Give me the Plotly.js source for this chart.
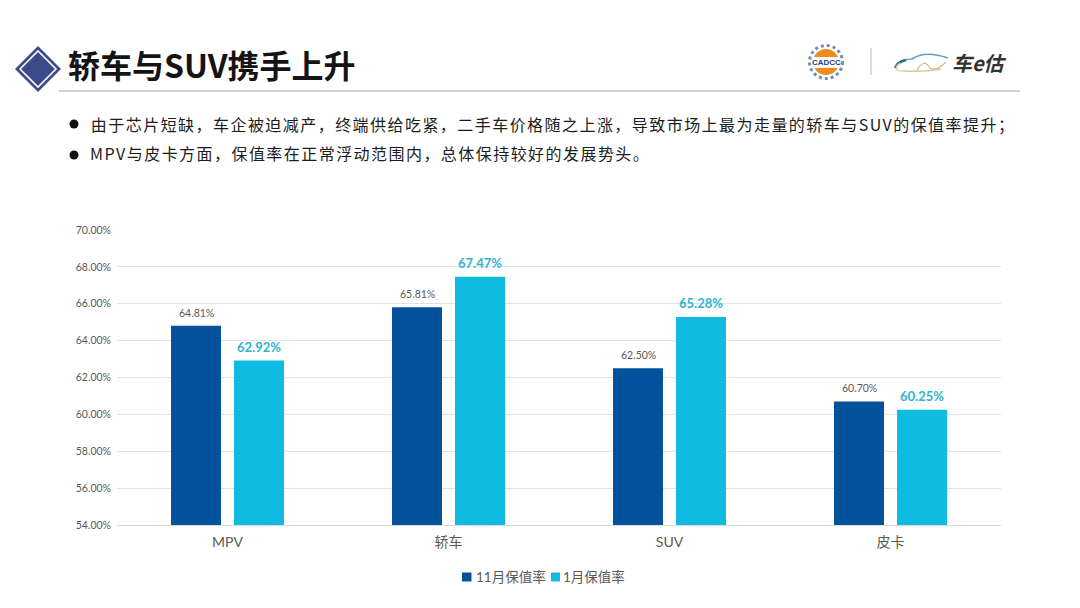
<!DOCTYPE html>
<html><head><meta charset="utf-8">
<script src="https://cdn.plot.ly/plotly-3.0.1.min.js"></script>
<style>html,body{margin:0;padding:0;background:#fff}#c{width:1080px;height:608px}
.annotation text[data-unformatted^="由于"],.annotation text[data-unformatted^="MPV与"]{letter-spacing:1.45px}
</style></head>
<body><div id="c"></div>
<script>
const categories = ["MPV","轿车","SUV","皮卡"];
const novValues = [64.81,65.81,62.50,60.70];
const janValues = [62.92,67.47,65.28,60.25];
const novName = "11月保值率";
const janName = "1月保值率";
const yTicks = [54,56,58,60,62,64,66,68,70];
const titleText = "轿车与SUV携手上升";
const bullets = ["由于芯片短缺，车企被迫减产，终端供给吃紧，二手车价格随之上涨，导致市场上最为走量的轿车与SUV的保值率提升；","MPV与皮卡方面，保值率在正常浮动范围内，总体保持较好的发展势头。"];

const L=117,R=1001,T=230,B=525;
const px=x=>(x-L)/(R-L), py=y=>(B-y)/(B-T);
const CJK='"Noto Sans CJK SC"';
const latin='Lato, "Noto Sans CJK SC", sans-serif';
const fmt=v=>v.toFixed(2)+"%";
const novColor="#04519c", janColor="#10bbe2";
const bar=(name,vals,color)=>({type:"bar",name,x:categories,y:vals,marker:{color},hoverinfo:"skip"});
const data=[bar(novName,novValues,novColor),bar(janName,janValues,janColor)];

const S=(o)=>Object.assign({xref:"paper",yref:"paper",layer:"above"},o);
const rect=(x0,y0,x1,y1,c)=>S({type:"rect",x0:px(x0),x1:px(x1),y0:py(y0),y1:py(y1),fillcolor:c,line:{width:0}});
const seg=(x0,y0,x1,y1,c,w)=>S({type:"line",x0:px(x0),x1:px(x1),y0:py(y0),y1:py(y1),line:{color:c,width:w}});
const poly=(pts,fill,lc,lw)=>S({type:"path",path:"M"+pts.map(p=>px(p[0])+","+py(p[1])).join("L")+"Z",fillcolor:fill,line:{color:lc,width:lw}});
const curve=(d,c,w)=>S({type:"path",path:"M"+px(d[0])+","+py(d[1])+"Q"+px(d[2])+","+py(d[3])+" "+px(d[4])+","+py(d[5])+(d.length>6?"Q"+px(d[6])+","+py(d[7])+" "+px(d[8])+","+py(d[9]):""),line:{color:c,width:w},fillcolor:"rgba(0,0,0,0)"});
const circle=(cx,cy,r,c,lc,lw,dash)=>S({type:"circle",x0:px(cx-r),x1:px(cx+r),y0:py(cy-r),y1:py(cy+r),fillcolor:c,line:{color:lc||c,width:lw||0,dash:dash||"solid"}});
const shapes=[
 poly([[15,69],[38,46],[61,69],[38,92]],"#3d4a8a","#3d4a8a",0),
 poly([[20,69],[38,51],[56,69],[38,87]],"rgba(0,0,0,0)","#ffffff",1.6),
 seg(59,91,1020,91,"#a6a6a6",1.2),
 circle(74,124,4.5,"#111111"),
 circle(74,155,4.5,"#111111"),
 circle(826,62,16.5,"#ffffff","#6f8db8",3,"dot"),
 circle(826,62,13,"#ee8a1e"),
 rect(812,57,840,68,"#ffffff"),
 seg(871,48,871,75,"#c4c4c4",1.2),
 curve([896,68,897,60,912,59,925,50,948,58],"#5fa0bb",1.6),
 curve([895,68,897,62,906,60],"#2f6f86",2.4),
 curve([900,63,890,71,905,71,925,72,941,69],"#d4c7a0",1.4),
 curve([917,70,924,58,930,68,936,72,946,62],"#c9b98a",1.2),
 rect(462,572.5,471.5,581.5,novColor),
 rect(551,572.5,560,581.5,janColor)
];
const ann=(x,y,text,size,color,extra)=>Object.assign({xref:"paper",yref:"paper",x:px(x),y:py(y),text,showarrow:false,xanchor:"left",yanchor:"middle",font:{family:CJK,size,color}},extra||{});
const valLabel=(cat,val,shift,yshift,font)=>({xref:"x",yref:"y",x:cat,y:val,text:fmt(val),showarrow:false,xshift:shift,yshift,xanchor:"center",yanchor:"middle",font});
const novFont={family:latin,size:10.5,color:"#595959"};
const janFont={family:latin,size:13,color:"#2fb4cf",weight:700};
const annotations=[
 ann(66,64,titleText,32,"#141414",{font:{family:CJK,size:32,color:"#141414",weight:700}}),
 ann(553,123.5,bullets[0],16,"#1c1c1c",{xanchor:"center"}),
 ann(370,152.5,bullets[1],16,"#1c1c1c",{xanchor:"center"}),
 ann(826,62.5,"CADCC",8,"#27407a",{xanchor:"center",font:{family:"Liberation Sans",size:8,color:"#27407a",weight:700}}),
 ann(950,62,"<i>车e估</i>",20,"#333333",{font:{family:CJK,size:20,color:"#333333",weight:700}}),
 ann(474,577,novName,13.5,"#595959",{font:{family:latin,size:13.5,color:"#595959"}}),
 ann(561,577,janName,13.5,"#595959",{font:{family:latin,size:13.5,color:"#595959"}}),
 ...categories.map((c,i)=>valLabel(c,novValues[i],-31.5,13,novFont)),
 ...categories.map((c,i)=>valLabel(c,janValues[i],31.5,14,janFont))
];
Plotly.newPlot("c",data,{
 width:1080,height:608,paper_bgcolor:"#fff",plot_bgcolor:"#fff",
 margin:{l:L,r:1080-R,t:T,b:608-B,pad:0},
 barmode:"group",bargap:0.43,bargroupgap:0.206,
 xaxis:{type:"category",tickfont:{family:latin,size:14,color:"#595959"},ticks:"",ticklabelstandoff:4,showline:true,linecolor:"#d9d9d9",linewidth:1,showgrid:false,fixedrange:true},
 yaxis:{range:[54,70],tickvals:yTicks,ticktext:yTicks.map(fmt),tickfont:{family:latin,size:10.5,color:"#595959"},ticks:"",ticklabelstandoff:5,gridcolor:"#e2e2e2",gridwidth:1,zeroline:false,showline:false,fixedrange:true,automargin:false},
 showlegend:false,
 shapes,annotations
},{displayModeBar:false,staticPlot:true});
</script></body></html>
